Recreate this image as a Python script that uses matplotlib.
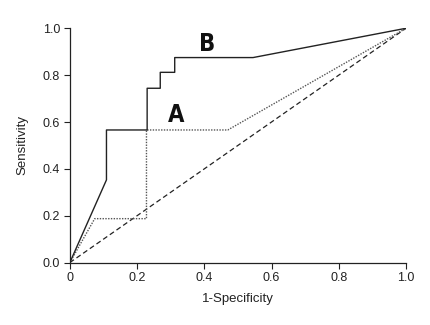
import matplotlib
matplotlib.use("Agg")
import matplotlib.pyplot as plt

# Data
curve_b_x = [0.0, 0.109, 0.109, 0.230, 0.230, 0.269, 0.269, 0.312, 0.312, 0.545, 1.0]
curve_b_y = [0.0, 0.353, 0.566, 0.566, 0.744, 0.744, 0.812, 0.812, 0.875, 0.875, 1.0]
curve_a_x = [0.0, 0.074, 0.228, 0.228, 0.470, 1.0]
curve_a_y = [0.0, 0.1875, 0.1875, 0.566, 0.566, 1.0]
ref_x = [0.0, 1.0]
ref_y = [0.0, 1.0]
tick_vals = [0.0, 0.2, 0.4, 0.6, 0.8, 1.0]
x_tick_labels = ["0", "0.2", "0.4", "0.6", "0.8", "1.0"]
y_tick_labels = ["0.0", "0.2", "0.4", "0.6", "0.8", "1.0"]

plt.rcParams['font.family'] = ['Liberation Sans', 'DejaVu Sans']

fig = plt.figure(figsize=(4.31, 3.25), dpi=100)
ax = fig.add_axes([0.162, 0.192, 0.78, 0.721])

ax.plot(ref_x, ref_y, color='#222222', lw=0.9, ls=(0, (4, 2.5)))
ax.plot(curve_a_x, curve_a_y, color='#555555', lw=1.0, ls=(0, (1, 1)))
ax.plot(curve_b_x, curve_b_y, color='#222222', lw=1.0, ls='-')

for lbl, lx, ly in [("A", 0.316, 0.630), ("B", 0.407, 0.935)]:
    ax.text(lx, ly, lbl, fontsize=17, fontweight='bold', ha='center', va='center',
            family='DejaVu Sans', fontstretch='condensed', color='#111111')

ax.set_xlim(0, 1.0)
ax.set_ylim(0, 1.0)
ax.set_xticks(tick_vals)
ax.set_xticklabels(x_tick_labels)
ax.set_yticks(tick_vals)
ax.set_yticklabels(y_tick_labels)
ax.tick_params(direction='out', length=4, width=0.8, labelsize=9, colors='#222222', pad=3)
for s in ['top', 'right']:
    ax.spines[s].set_visible(False)
for s in ['left', 'bottom']:
    ax.spines[s].set_linewidth(0.9)
    ax.spines[s].set_color('#222222')

ax.set_xlabel("1-Specificity", fontsize=9.5, color='#222222', labelpad=6)
ax.set_ylabel("Sensitivity", fontsize=9.5, color='#222222', labelpad=10)

fig.savefig("out.png", dpi=100)
